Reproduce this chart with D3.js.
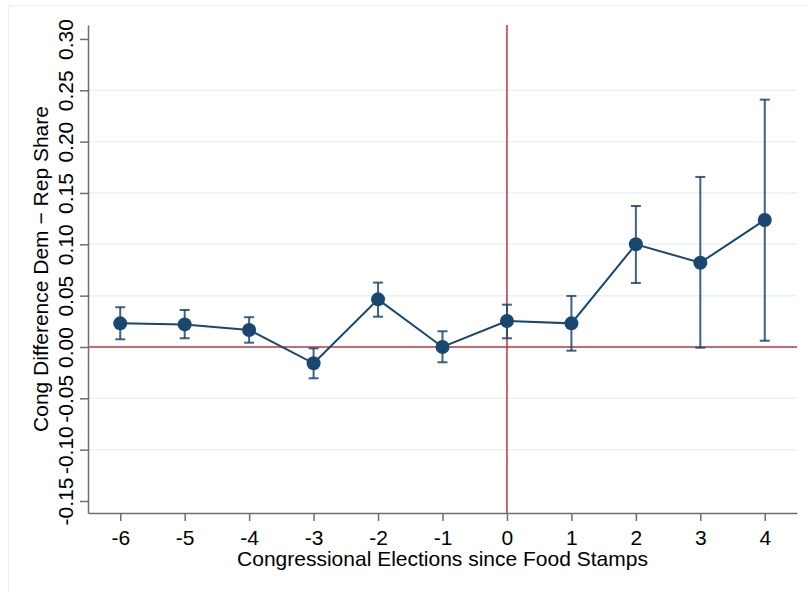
<!DOCTYPE html>
<html>
<head>
<meta charset="utf-8">
<script src="https://cdn.jsdelivr.net/npm/d3@7"></script>
<style>
  body { margin: 0; background: #fff; }
  svg { font-family: "Liberation Sans", Arial, sans-serif; }
</style>
</head>
<body>
<svg width="807" height="592"></svg>
<script>
// event-study estimates
var periods = [-6, -5, -4, -3, -2, -1, 0, 1, 2, 3, 4];
var coef  = [0.023, 0.022, 0.0166, -0.0159, 0.0464, 0.000, 0.0253, 0.023, 0.100, 0.0821, 0.1237];
var lower = [0.0075, 0.0085, 0.0042, -0.0305, 0.0295, -0.0149, 0.0085, -0.0036, 0.0623, -0.0007, 0.0061];
var upper = [0.0387, 0.036, 0.029, -0.0013, 0.0627, 0.0153, 0.0412, 0.0497, 0.1373, 0.1656, 0.2409];
var yTicks = [-0.15, -0.10, -0.05, 0.00, 0.05, 0.10, 0.15, 0.20, 0.25, 0.30];
var gridTicks = [-0.10, -0.05, 0.05, 0.10, 0.15, 0.20, 0.25];

var svg = d3.select("svg");
var navy = "#1a476f", red = "#b03a40", axisCol = "#6e6e6e";

var x = d3.scaleLinear().domain([-6.5, 4.5]).range([88, 797]);
var y = d3.scaleLinear().domain([-0.1617, 0.3136]).range([513, 25]);

var data = periods.map(function(p, i) {
  return {p: p, b: coef[i], lo: lower[i], hi: upper[i]};
});

// faint outer frame
svg.append("rect")
  .attr("x", 8.5).attr("y", 5.5).attr("width", 810).attr("height", 600)
  .attr("fill", "none").attr("stroke", "#efefef");

// gridlines
svg.append("g").selectAll("line")
  .data(gridTicks)
  .enter().append("line")
  .attr("x1", x.range()[0]).attr("x2", x.range()[1])
  .attr("y1", function(d) { return y(d); })
  .attr("y2", function(d) { return y(d); })
  .attr("stroke", "#eaf1f3").attr("stroke-width", 1.5);

// reference lines at 0
svg.append("line")
  .attr("x1", x.range()[0]).attr("x2", x.range()[1])
  .attr("y1", y(0)).attr("y2", y(0))
  .attr("stroke", red).attr("stroke-width", 1.5);
svg.append("line")
  .attr("x1", x(0)).attr("x2", x(0))
  .attr("y1", y.range()[1]).attr("y2", y.range()[0])
  .attr("stroke", red).attr("stroke-width", 1.5);

// axes
var yAxis = svg.append("g")
  .attr("transform", "translate(88,0)")
  .call(d3.axisLeft(y).tickValues(yTicks).tickSize(8).tickSizeOuter(0)
    .tickFormat(function(d) { return d.toFixed(2); }));
yAxis.selectAll("text")
  .attr("x", null).attr("dy", null)
  .attr("text-anchor", "middle")
  .attr("transform", "translate(-15,0) rotate(-90)");

var xAxis = svg.append("g")
  .attr("transform", "translate(0,513)")
  .call(d3.axisBottom(x).tickValues(periods).tickSize(8).tickSizeOuter(0)
    .tickFormat(function(d) { return String(d); }));
xAxis.selectAll("text").attr("y", 32).attr("dy", null);

svg.selectAll(".domain, .tick line")
  .attr("stroke", axisCol).attr("stroke-width", 1.5);
svg.selectAll(".tick text")
  .attr("fill", "#000").attr("font-size", "21px")
  .attr("font-family", "Liberation Sans, Arial, sans-serif");

// axis titles
svg.append("text")
  .attr("transform", "translate(48," + ((y.range()[0] + y.range()[1]) / 2) + ") rotate(-90)")
  .attr("text-anchor", "middle").attr("font-size", "21px")
  .text("Cong Difference Dem \u2212 Rep Share");
svg.append("text")
  .attr("x", (x.range()[0] + x.range()[1]) / 2).attr("y", 566)
  .attr("text-anchor", "middle").attr("font-size", "21px")
  .text("Congressional Elections since Food Stamps");

// confidence intervals
var ci = svg.append("g").attr("stroke", navy).attr("stroke-opacity", 0.85).attr("stroke-width", 2);
ci.selectAll(".bar").data(data).enter().append("line")
  .attr("x1", function(d) { return x(d.p); }).attr("x2", function(d) { return x(d.p); })
  .attr("y1", function(d) { return y(d.lo); }).attr("y2", function(d) { return y(d.hi); });
ci.selectAll(".capHi").data(data).enter().append("line")
  .attr("x1", function(d) { return x(d.p) - 5; }).attr("x2", function(d) { return x(d.p) + 5; })
  .attr("y1", function(d) { return y(d.hi); }).attr("y2", function(d) { return y(d.hi); });
ci.selectAll(".capLo").data(data).enter().append("line")
  .attr("x1", function(d) { return x(d.p) - 5; }).attr("x2", function(d) { return x(d.p) + 5; })
  .attr("y1", function(d) { return y(d.lo); }).attr("y2", function(d) { return y(d.lo); });

// connected point estimates
var line = d3.line()
  .x(function(d) { return x(d.p); })
  .y(function(d) { return y(d.b); });
svg.append("path")
  .datum(data)
  .attr("d", line)
  .attr("fill", "none").attr("stroke", navy).attr("stroke-width", 2);

svg.append("g").selectAll("circle")
  .data(data)
  .enter().append("circle")
  .attr("cx", function(d) { return x(d.p); })
  .attr("cy", function(d) { return y(d.b); })
  .attr("r", 7)
  .attr("fill", navy);
</script>
</body>
</html>
